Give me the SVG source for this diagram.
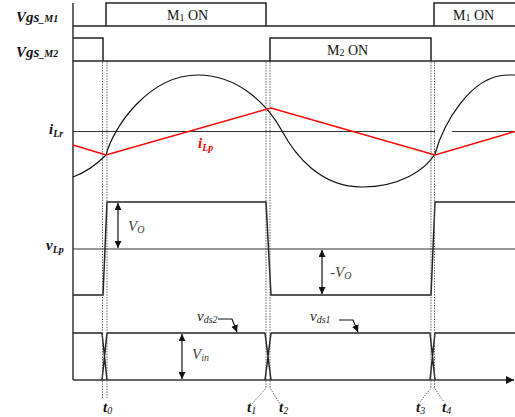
<svg xmlns="http://www.w3.org/2000/svg" width="515" height="417" viewBox="0 0 515 417">
<defs>
<marker id="ah" viewBox="0 0 10 10" refX="10" refY="5" markerWidth="7" markerHeight="7" markerUnits="userSpaceOnUse" orient="auto-start-reverse">
<path d="M0,0 L10,5 L0,10 z" fill="#111"/>
</marker>
<marker id="ax" viewBox="0 0 10 10" refX="10" refY="5" markerWidth="8" markerHeight="8" markerUnits="userSpaceOnUse" orient="auto">
<path d="M0,0 L10,5 L0,10 z" fill="#111"/>
</marker>
</defs>
<style>
.ax{stroke:#333;stroke-width:1.5;fill:none}
.w{stroke:#222;stroke-width:1.5;fill:none}
.thin{stroke:#333;stroke-width:1.2;fill:none}
.curve{stroke:#111;stroke-width:1.2;fill:none}
.red{stroke:#f00;stroke-width:1.5;fill:none}
.dash{stroke:#555;stroke-width:0.9;stroke-dasharray:1.5 1.2;fill:none}
.dim{stroke:#111;stroke-width:1.2;fill:none}
.lbl{font-family:"Liberation Serif",serif;font-style:italic;font-weight:bold;font-size:15px;fill:#111}
.sub{font-size:10px}
.on{font-family:"Liberation Serif",serif;font-size:14px;fill:#111}
.val{font-family:"Liberation Serif",serif;font-style:italic;font-size:15px;fill:#444}
.sig{font-family:"Liberation Serif",serif;font-style:italic;font-size:15px;fill:#222}
</style>
<rect width="515" height="417" fill="#fff"/>

<g id="axes">
<path class="ax" d="M73,3 V380"/>
<path class="ax" d="M73,380 H514" marker-end="url(#ax)"/>
</g>

<g id="vgs-m1">
<path class="w" d="M73,26 H515"/>
<path class="w" d="M106,26 V3 H266 V26"/>
<path class="w" d="M434,26 V3 H515"/>
<text class="lbl" x="16" y="22">Vgs<tspan class="sub">_M1</tspan></text>
<text class="on" x="167" y="20">M<tspan font-size="10" dy="1">1</tspan><tspan dy="-1"> ON</tspan></text>
<text class="on" x="453" y="20">M<tspan font-size="10" dy="1">1</tspan><tspan dy="-1"> ON</tspan></text>
</g>

<g id="vgs-m2">
<path class="w" d="M73,61 H515"/>
<path class="w" d="M73,38 H103 V61"/>
<path class="w" d="M270,61 V38 H431 V61"/>
<text class="lbl" x="16" y="57">Vgs<tspan class="sub">_M2</tspan></text>
<text class="on" x="327" y="55">M<tspan font-size="10" dy="1">2</tspan><tspan dy="-1"> ON</tspan></text>
</g>

<g id="ilr">
<path class="thin" d="M73,131.5 H435 M452,131.5 H515"/>
<path class="curve" d="M73,177 C84,173 96,165 106,155 C114,125 150,75 198,75 C240,75 269,107 282,131 C295,155 320,187 362,187 C400,187 425,170 435,154 C443,125 470,75 508,75 L515,75"/>
<text class="lbl" x="49" y="134">i<tspan class="sub" dy="3">Lr</tspan></text>
</g>

<g id="ilp">
<path class="red" d="M73,145 L106,155 L271,108 L435,155 L515,131.5"/>
<text class="lbl" x="198" y="148" style="fill:#f00">i<tspan class="sub" dy="3">Lp</tspan></text>
</g>

<g id="vlp">
<path class="thin" d="M73,249 H515"/>
<path class="w" d="M73,295 H103 L107,202 H266 L271,295 H431 L435,202 H515"/>
<text class="lbl" x="46" y="250">v<tspan class="sub" dy="3">Lp</tspan></text>
<path class="dim" d="M118,203 V248" marker-start="url(#ah)" marker-end="url(#ah)"/>
<text class="val" x="128" y="231">V<tspan font-size="10" dy="2">O</tspan></text>
<path class="dim" d="M322,250 V294" marker-start="url(#ah)" marker-end="url(#ah)"/>
<text class="val" x="330" y="277">-V<tspan font-size="10" dy="2">O</tspan></text>
</g>

<g id="vds">
<path class="w" d="M73,333 H102 M107,333 H265 M271,333 H430 M435,333 H515"/>
<path class="w" d="M102,333 L107,380 M102,380 L107,333"/>
<path class="w" d="M265,333 L271,380 M265,380 L271,333"/>
<path class="w" d="M430,333 L435,380 M430,380 L435,333"/>
<path class="dim" d="M182,334 V379" marker-start="url(#ah)" marker-end="url(#ah)"/>
<text class="val" x="192" y="359">V<tspan font-size="10" dy="2">in</tspan></text>
<text class="sig" x="197" y="321">v<tspan font-size="10" dy="2">ds2</tspan></text>
<text class="sig" x="310" y="321">v<tspan font-size="10" dy="2">ds1</tspan></text>
</g>

<g id="connectors">
<path class="dim" d="M218,319 H232 L237,332" marker-end="url(#ah)"/>
<path class="dim" d="M339,320 H353 L358,332" marker-end="url(#ah)"/>
<path class="dash" d="M102.5,62 V398"/>
<path class="dash" d="M107,62 V398"/>
<path class="dash" d="M266,62 V388 L252,404"/>
<path class="dash" d="M270,62 V388 L280,404"/>
<path class="dash" d="M431,62 V388 L420,402"/>
<path class="dash" d="M434.5,62 V388 L444,402"/>
</g>

<g id="time-labels">
<text class="lbl" x="103" y="412">t<tspan class="sub" dy="2" font-weight="normal">0</tspan></text>
<text class="lbl" x="247" y="412">t<tspan class="sub" dy="2" font-weight="normal">1</tspan></text>
<text class="lbl" x="279" y="412">t<tspan class="sub" dy="2" font-weight="normal">2</tspan></text>
<text class="lbl" x="416" y="412">t<tspan class="sub" dy="2" font-weight="normal">3</tspan></text>
<text class="lbl" x="442" y="412">t<tspan class="sub" dy="2" font-weight="normal">4</tspan></text>
</g>
</svg>
